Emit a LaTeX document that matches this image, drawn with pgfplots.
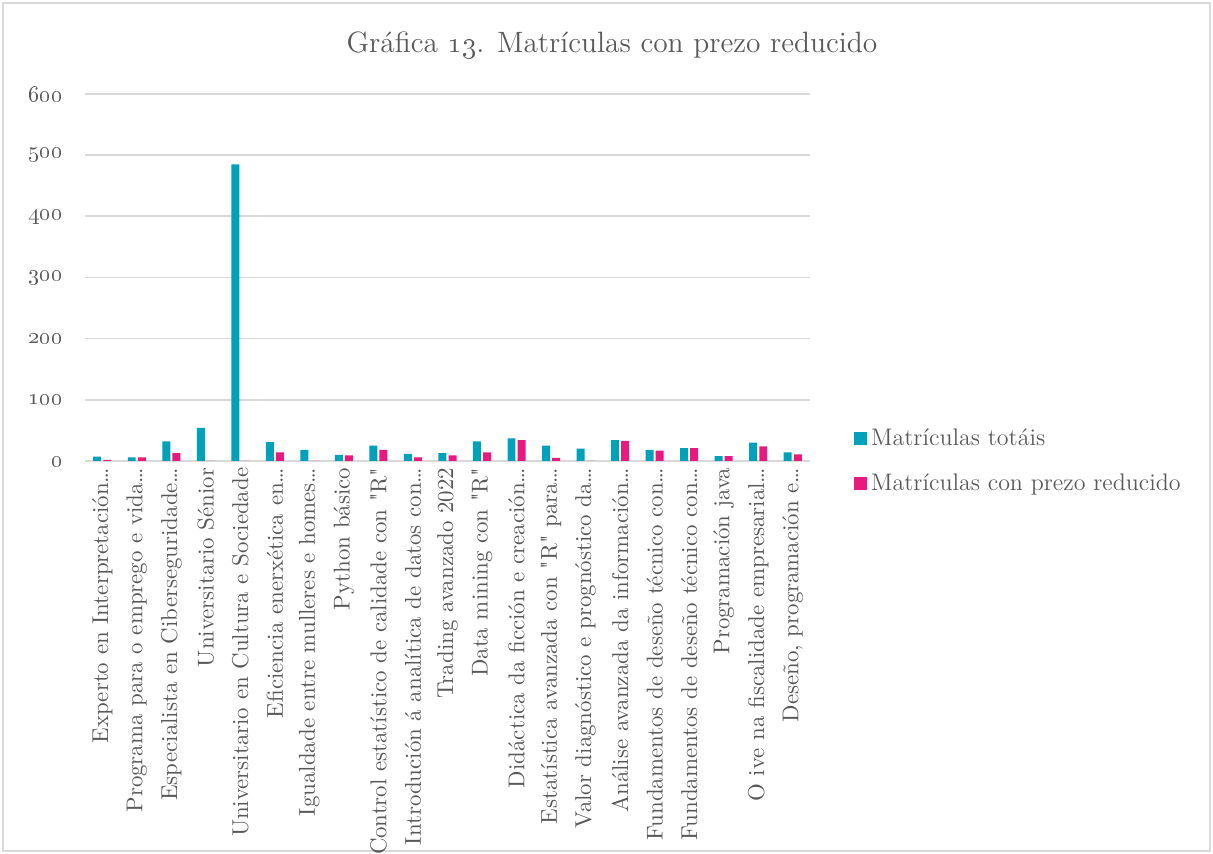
\documentclass[border=0pt]{standalone}
\usepackage{pgfplots}
\pgfplotsset{compat=1.18}
\definecolor{teal1}{HTML}{00A2B9}
\definecolor{pink1}{HTML}{E8197F}
\definecolor{txt}{HTML}{595959}
\definecolor{gridc}{HTML}{D9D9D9}
\begin{document}
\begin{tikzpicture}
\useasboundingbox (0,0) rectangle (577.4pt,406.5pt);
\draw[gridc, line width=0.6pt] (1.4pt,1.4pt) rectangle (576pt,405.1pt);
\node[txt, font=\fontsize{14}{16}\selectfont] at (291.3pt,385.1pt) {Gráfica \oldstylenums{13}. Matrículas con prezo reducido};
\begin{axis}[
  at={(40.46pt,187.07pt)}, anchor=south west,
  scale only axis, width=345.1pt, height=174.7pt,
  xmin=-0.5, xmax=20.5, ymin=0, ymax=600,
  axis line style={draw=none},
  axis x line*=bottom,
  ytick={0,100,...,600},
  yticklabels={\oldstylenums{0},\oldstylenums{100},\oldstylenums{200},\oldstylenums{300},\oldstylenums{400},\oldstylenums{500},\oldstylenums{600}},
  yticklabel style={txt, font=\fontsize{11}{12}\selectfont, anchor=east, xshift=-7pt},
  ymajorgrids, major grid style={gridc, line width=0.8pt},
  major tick length=0pt,
  xtick={0,...,20},
  xticklabels={Experto en Interpretación\dots,Programa para o emprego e vida\dots,Especialista en Ciberseguridade\dots,Universitario Sénior,Universitario en Cultura e Sociedade,Eficiencia enerxética en\dots,Igualdade entre mulleres e homes\dots,Python básico,Control estatístico de calidade con \textquotedbl R\textquotedbl,Introdución á analítica de datos con\dots,Trading avanzado 2022,Data mining con \textquotedbl R\textquotedbl,Didáctica da ficción e creación\dots,Estatística avanzada con \textquotedbl R\textquotedbl{} para\dots,Valor diagnóstico e prognóstico da\dots,Análise avanzada da información\dots,Fundamentos de deseño técnico con\dots,Fundamentos de deseño técnico con\dots,Programación java,O ive na fiscalidade empresarial\dots,{Deseño, programación e\dots}},
  xticklabel style={txt, font=\fontsize{10.9}{12}\selectfont, rotate=90, anchor=east, inner sep=3pt},
  legend style={at={(rel axis cs:1.06,0.10)}, anchor=north west, draw=none, fill=none,
    font=\fontsize{11.4}{12}\selectfont, text=txt, row sep=8pt,
    legend cell align=left, inner sep=0pt},
  legend image code/.code={\fill[#1] (0pt,-3.1pt) rectangle (6.2pt,3.1pt);},
  clip=false,
]
\draw[gridc, line width=0.8pt] (axis cs:-0.5,0) -- (axis cs:20.5,0);
\addplot[ybar, bar width=3.8pt, bar shift=-2.4pt, fill=teal1, draw=none] coordinates {
(0,7) (1,6) (2,32) (3,54) (4,485) (5,31) (6,18) (7,10) (8,25) (9,11.5) (10,13)
(11,32) (12,37) (13,25) (14,20) (15,34) (16,18) (17,21) (18,8) (19,30) (20,14)};
\addlegendentry{Matrículas totáis}
\addplot[ybar, bar width=3.8pt, bar shift=2.4pt, fill=pink1, draw=none] coordinates {
(0,2) (1,6) (2,13) (3,0) (4,0) (5,14) (6,0) (7,9) (8,18) (9,6) (10,9)
(11,14) (12,34) (13,5) (14,0) (15,33) (16,17) (17,21) (18,8) (19,24) (20,11)};
\addlegendentry{Matrículas con prezo reducido}
\end{axis}
\end{tikzpicture}
\end{document}
